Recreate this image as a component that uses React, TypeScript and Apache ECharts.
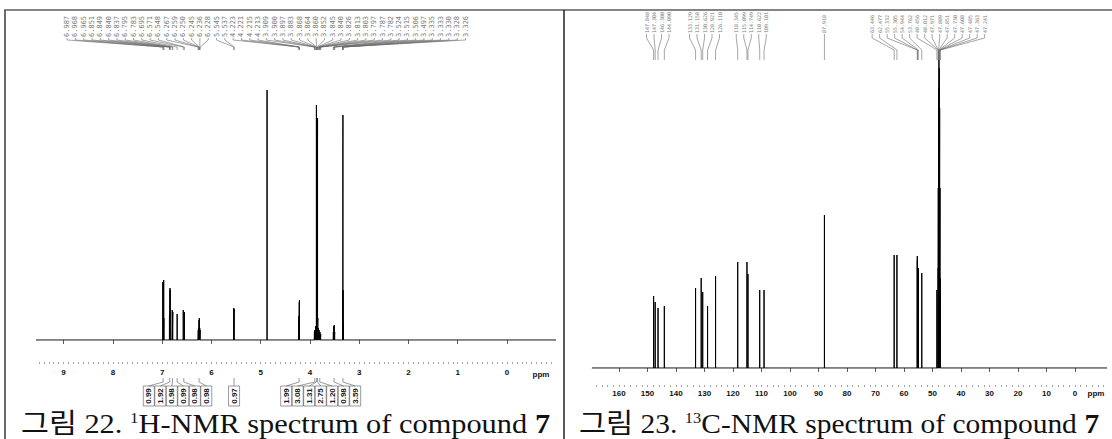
import React, { useEffect, useRef } from "react";
import * as echarts from "echarts";

// ---------------- 1H-NMR (left panel) ----------------
const H_AXIS_TICKS = [9, 8, 7, 6, 5, 4, 3, 2, 1, 0];
const H_PEAK_LABELS = [
  "6.987", "6.968", "6.965", "6.851", "6.849", "6.840", "6.837", "6.795", "6.783", "6.695",
  "6.571", "6.548", "6.267", "6.259", "6.250", "6.245", "6.236", "6.228", "5.545", "5.537",
  "4.223", "4.221", "4.215", "4.213", "3.909", "3.900", "3.897", "3.883", "3.868", "3.864",
  "3.860", "3.852", "3.845", "3.840", "3.826", "3.813", "3.803", "3.797", "3.787", "3.782",
  "3.524", "3.515", "3.506", "3.497", "3.335", "3.333", "3.330", "3.328", "3.326",
];
const H_PEAK_HEIGHTS = [
  58, 60, 22, 24, 26, 52, 50, 30, 28, 26,
  30, 28, 10, 12, 20, 22, 12, 10, 32, 31,
  22, 24, 38, 40, 8, 10, 10, 14, 235, 30,
  26, 18, 222, 22, 12, 10, 8, 8, 6, 6,
  8, 14, 15, 8, 18, 50, 225, 50, 18,
];
const H_SOLVENT_PPM = [4.87];
const H_SOLVENT_HEIGHTS = [250];
const H_INT_PPM = [6.98, 6.845, 6.79, 6.695, 6.56, 6.25, 5.54, 4.22, 3.9, 3.865, 3.845, 3.8, 3.51, 3.33];
const H_INT_VALUES = ["0.99", "1.92", "0.98", "0.99", "0.98", "0.98", "0.97", "1.99", "3.08", "1.31", "2.75", "1.20", "0.98", "3.59"];

// ---------------- 13C-NMR (right panel) ----------------
const C_AXIS_TICKS = [160, 150, 140, 130, 120, 110, 100, 90, 80, 70, 60, 50, 40, 30, 20, 10, 0];
const C_PEAK_LABELS = [
  "147.848", "147.304", "146.300", "144.090", "133.129", "131.158", "130.626", "128.921",
  "126.110", "118.345", "115.099", "114.749", "110.622", "109.101", "87.918", "63.446",
  "62.477", "55.332", "55.305", "54.944", "53.762", "48.456", "48.012", "47.971",
  "47.889", "47.851", "47.730", "47.608", "47.485", "47.363", "47.241",
];
const C_PEAK_HEIGHTS = [
  72, 66, 60, 62, 80, 90, 76, 62,
  92, 106, 106, 94, 78, 78, 153, 113,
  113, 112, 108, 100, 95, 78, 100, 180,
  150, 280, 308, 300, 260, 180, 90,
];

const H_CAPTION = { pre: "그림 22. ", sup: "1", mid: "H-NMR spectrum of compound ", bold: "7" };
const C_CAPTION = { pre: "그림 23. ", sup: "13", mid: "C-NMR spectrum of compound ", bold: "7" };

// axis ranges (ppm)
const H_MIN = -0.995, H_MAX = 9.56;
const C_MIN = -11.23, C_MAX = 169.47;

function sticks(ppm: number[], h: number[], min: number, max: number) {
  const pts = ppm.map((p, i) => ({ p, h: h[i] })).sort((a, b) => b.p - a.p);
  const data: number[][] = [[max, 0]];
  pts.forEach(({ p, h }) => data.push([p, 0], [p, h], [p, 0]));
  data.push([min, 0]);
  return data;
}

function range(a: number, b: number, step: number) {
  const out: number[] = [];
  for (let v = a; v <= b + 1e-9; v += step) out.push(Math.round(v * 1000) / 1000);
  return out;
}

function spread(desired: number[], gap: number, lo: number, hi: number) {
  type C = { idx: number[]; center: number };
  let cl: C[] = desired.map((d, i) => ({ idx: [i], center: d }));
  const first = (c: C) => c.center - ((c.idx.length - 1) * gap) / 2;
  const last = (c: C) => c.center + ((c.idx.length - 1) * gap) / 2;
  let merged = true;
  while (merged) {
    merged = false;
    for (let i = 0; i < cl.length - 1; i++) {
      if (last(cl[i]) + gap > first(cl[i + 1])) {
        const idx = cl[i].idx.concat(cl[i + 1].idx);
        const center = idx.reduce((s, k) => s + desired[k], 0) / idx.length;
        cl.splice(i, 2, { idx, center });
        merged = true;
        break;
      }
    }
  }
  const out: number[] = new Array(desired.length);
  cl.forEach((c) => {
    const span = (c.idx.length - 1) * gap;
    let f = first(c);
    if (f < lo) f = lo;
    if (f + span > hi) f = hi - span;
    c.idx.forEach((k, j) => (out[k] = f + j * gap));
  });
  return out;
}

const SERIF = "'Liberation Serif', 'Noto Sans CJK KR', serif";
const SANS = "'Liberation Sans', Arial, sans-serif";

export default function App() {
  const ref = useRef<HTMLDivElement>(null);
  useEffect(() => {
    document.body.style.margin = "0";
    const chart = echarts.init(ref.current!, null, { renderer: "svg" });
    const hPpm = H_PEAK_LABELS.map(Number).concat(H_SOLVENT_PPM);
    const hH = H_PEAK_HEIGHTS.concat(H_SOLVENT_HEIGHTS);
    const cPpm = C_PEAK_LABELS.map(Number);

    const mainAxis = (gridIndex: number, min: number, max: number, ticks: number[], offset: number, margin: number) => ({
      type: "value", gridIndex, min, max, inverse: true, position: "bottom", offset,
      splitLine: { show: false },
      axisLine: { show: true, lineStyle: { color: "#a0a0a0", width: 0.6 } },
      axisTick: { show: true, customValues: ticks, length: 4, lineStyle: { color: "#333", width: 0.8 } },
      axisLabel: { show: true, customValues: ticks, margin, fontSize: 8, fontWeight: "bold", color: "#111", fontFamily: SANS },
    });
    const minorAxis = (gridIndex: number, min: number, max: number, ticks: number[], offset: number) => ({
      type: "value", gridIndex, min, max, inverse: true, position: "bottom", offset,
      splitLine: { show: false }, axisLine: { show: false },
      axisTick: { show: true, customValues: ticks, length: 2, lineStyle: { color: "#666", width: 0.6 } },
      axisLabel: { show: false },
    });

    chart.setOption({
      animation: false,
      backgroundColor: "#ffffff",
      grid: [
        { left: 36, top: 50, width: 520, height: 290, containLabel: false, outerBoundsMode: "none" },
        { left: 592, top: 60, width: 515, height: 308, containLabel: false, outerBoundsMode: "none" },
      ],
      xAxis: [
        mainAxis(0, H_MIN, H_MAX, H_AXIS_TICKS, 22, 6),
        minorAxis(0, H_MIN, H_MAX, range(-0.9, 9.5, 0.1), 22),
        mainAxis(1, C_MIN, C_MAX, C_AXIS_TICKS, 17, 4),
        minorAxis(1, C_MIN, C_MAX, range(-10, 168, 2), 17),
      ],
      yAxis: [
        { type: "value", gridIndex: 0, min: 0, max: 290, show: false },
        { type: "value", gridIndex: 1, min: 0, max: 308, show: false },
      ],
      series: [
        {
          type: "line", xAxisIndex: 0, yAxisIndex: 0, showSymbol: false, symbol: "none",
          data: sticks(hPpm, hH, H_MIN, H_MAX), lineStyle: { color: "#000", width: 1 }, silent: true,
        },
        {
          type: "line", xAxisIndex: 2, yAxisIndex: 1, showSymbol: false, symbol: "none",
          data: sticks(cPpm, C_PEAK_HEIGHTS, C_MIN, C_MAX), lineStyle: { color: "#000", width: 1 }, silent: true,
        },
      ],
    });

    const hx = (v: number) => chart.convertToPixel({ xAxisIndex: 0 }, v) as number;
    const cx = (v: number) => chart.convertToPixel({ xAxisIndex: 2 }, v) as number;
    const els: any[] = [];

    // table lines
    els.push({ type: "line", silent: true, shape: { x1: 4, y1: 10, x2: 1112, y2: 10 }, style: { stroke: "#858585", lineWidth: 2 } });
    els.push({ type: "line", silent: true, shape: { x1: 5, y1: 10, x2: 5, y2: 439 }, style: { stroke: "#6a6a6a", lineWidth: 2 } });
    els.push({ type: "line", silent: true, shape: { x1: 564, y1: 10, x2: 564, y2: 439 }, style: { stroke: "#222", lineWidth: 1.5 } });

    // peak labels with fan lines
    const fan = (labels: string[], px: number[], gap: number, lo: number, hi: number, fontSize: number, yLab: number, y1: number, y2: number, y3: number) => {
      const lx = spread(px, gap, lo, hi);
      labels.forEach((t, i) => {
        els.push({
          type: "text", silent: true, x: lx[i], y: yLab, rotation: Math.PI / 2,
          style: { text: t, fill: "#7a7a7a", fontSize, fontFamily: "'DejaVu Sans Mono', monospace", align: "left", verticalAlign: "middle" },
        });
        els.push({
          type: "polyline", silent: true,
          shape: { points: [[lx[i], yLab + 1], [lx[i], y1], [px[i], y2], [px[i], y3]] },
          style: { stroke: "#6a6a6a", lineWidth: 0.6, fill: null },
        });
      });
    };
    fan(H_PEAK_LABELS, H_PEAK_LABELS.map((t) => hx(Number(t))), 8.3, 40, 550, 7, 37, 40, 47, 50);
    fan(C_PEAK_LABELS, C_PEAK_LABELS.map((t) => cx(Number(t))), 7.5, 600, 1100, 5, 33, 38, 50, 60);

    // integrals
    const ix = H_INT_PPM.map(hx);
    const bx = spread(ix, 11.5, 40, 550);
    H_INT_VALUES.forEach((t, i) => {
      els.push({ type: "polyline", silent: true, shape: { points: [[ix[i], 378], [ix[i], 382], [bx[i], 386]] }, style: { stroke: "#555", lineWidth: 0.6, fill: null } });
      els.push({ type: "rect", silent: true, shape: { x: bx[i] - 5.5, y: 386, width: 11, height: 20 }, style: { stroke: "#555", lineWidth: 0.6, fill: null } });
      els.push({
        type: "text", silent: true, x: bx[i], y: 396, rotation: Math.PI / 2,
        style: { text: t, fill: "#222", fontSize: 8, fontWeight: "bold", fontFamily: SANS, align: "center", verticalAlign: "middle" },
      });
    });

    // ppm unit labels
    els.push({ type: "text", silent: true, x: hx(0) + 34, y: 374, style: { text: "ppm", fill: "#111", fontSize: 8, fontWeight: "bold", fontFamily: SANS, align: "center", verticalAlign: "middle" } });
    els.push({ type: "text", silent: true, x: cx(0) + 21, y: 393, style: { text: "ppm", fill: "#111", fontSize: 8, fontWeight: "bold", fontFamily: SANS, align: "center", verticalAlign: "middle" } });

    // captions
    const ctx = document.createElement("canvas").getContext("2d")!;
    const measure = (t: string, size: number, weight = "normal") => {
      ctx.font = `${weight} ${size}px ${SERIF}`;
      return ctx.measureText(t).width;
    };
    const caption = (c: typeof H_CAPTION, x: number, targetW: number) => {
      const w = measure(c.pre, 27) + measure(c.sup, 15) + measure(c.mid, 27) + measure(c.bold, 27, "bold");
      els.push({
        type: "text", silent: true, x, y: 424, scaleX: targetW / w, originX: 0, originY: 0,
        style: {
          text: `{n|${c.pre}}{s|${c.sup}}{n|${c.mid}}{b|${c.bold}}`,
          align: "left", verticalAlign: "middle",
          rich: {
            n: { fontSize: 27, fontFamily: SERIF, fill: "#111", lineHeight: 28 },
            s: { fontSize: 15, fontFamily: SERIF, fill: "#111", verticalAlign: "top", lineHeight: 15 },
            b: { fontSize: 27, fontFamily: SERIF, fill: "#111", fontWeight: "bold", lineHeight: 28 },
          },
        },
      });
    };
    caption(H_CAPTION, 21, 529);
    caption(C_CAPTION, 579, 520);

    chart.setOption({ graphic: { elements: els } });
    return () => chart.dispose();
  }, []);
  return <div ref={ref} style={{ width: 1112, height: 439, background: "#fff" }} />;
}
